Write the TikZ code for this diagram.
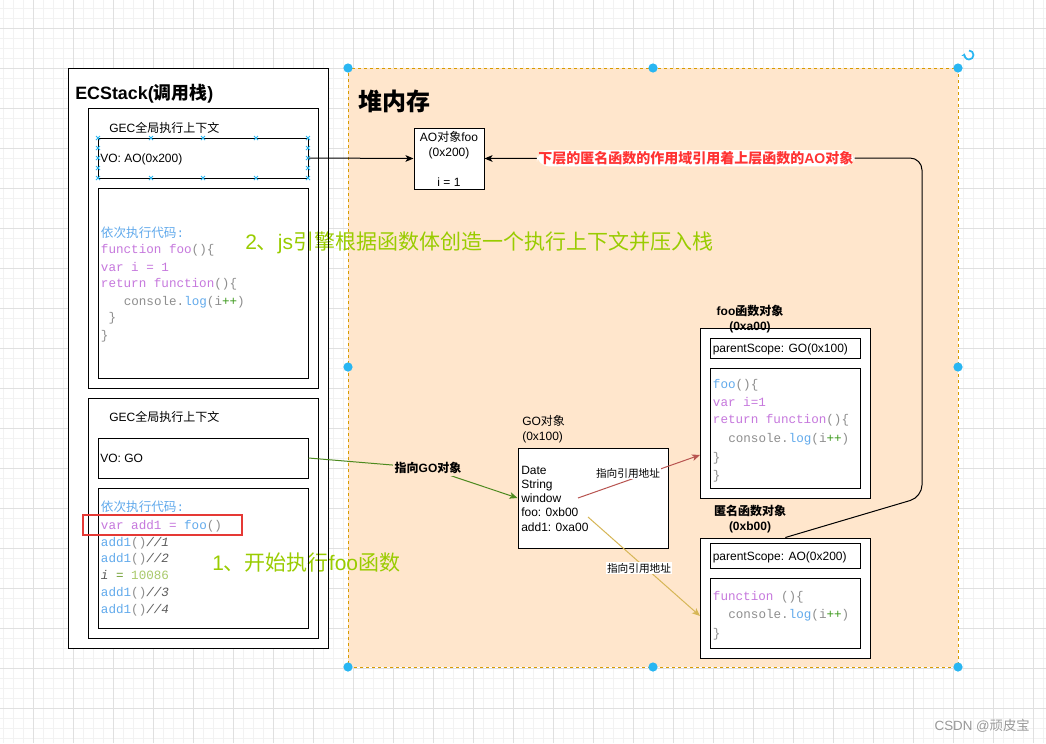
\documentclass[tikz,border=0pt]{standalone}
\usepackage{fontspec}
\setmainfont{Liberation Sans}
\setmonofont{Liberation Mono}
\newfontfamily\cjk{Noto Sans CJK SC}
\usetikzlibrary{arrows.meta,fit}
\newcommand\zh[1]{{\cjk #1}}
\newcommand\fsz[1]{\fontsize{#1pt}{#1pt}\selectfont}
\definecolor{peach}{HTML}{FFE6CC}
\definecolor{corange}{HTML}{D79B00}
\definecolor{handle}{HTML}{29B6F2}
\definecolor{cblue}{HTML}{62AAEC}
\definecolor{cpurp}{HTML}{C678DD}
\definecolor{cgrey}{HTML}{8E8E8E}
\definecolor{cgrn}{HTML}{3E9A1E}
\definecolor{cdark}{HTML}{5A5A5A}
\definecolor{clgrn}{HTML}{A9C96A}
\definecolor{ceq}{HTML}{6E9E2E}
\definecolor{cyg}{HTML}{99CC00}
\definecolor{cred}{HTML}{E53935}
\definecolor{clabel}{HTML}{FF3333}
\definecolor{arrgreen}{HTML}{4D8A1F}
\definecolor{arrred}{HTML}{B85450}
\definecolor{arryel}{HTML}{D6B656}
\definecolor{gridmaj}{HTML}{E0E0E0}
\definecolor{gridmin}{HTML}{F2F2F2}
\definecolor{wm}{HTML}{999999}
\newcommand\cP[1]{\textcolor{cpurp}{#1}}
\newcommand\cB[1]{\textcolor{cblue}{#1}}
\newcommand\cG[1]{\textcolor{cgrey}{#1}}
\newcommand\cN[1]{\textcolor{cgrn}{#1}}
\newcommand\cC[1]{\textcolor{cdark}{\itshape #1}}
\newcommand\consoleline{\cG{console.}\cB{log}\cG{(i}\cN{++}\cG{)}}
\pgfdeclarelayer{bg}
\pgfdeclarelayer{mid}
\pgfsetlayers{bg,mid,main}
\begin{document}
\begin{tikzpicture}[x=0.75pt,y=-0.75pt,
  every node/.append style={inner sep=0pt},
  box/.style={draw=black, line width=0.75pt},
  txt/.style={anchor=base west, font=\fsz{9}},
  ctxt/.style={anchor=base, font=\fsz{9}},
  code/.style={anchor=base west, font=\ttfamily\fsz{9.45}},
  arr/.style={line width=0.75pt, -{Stealth[length=6pt,width=5pt,inset=1.5pt]}},
  xmark/.style={draw=handle, line width=0.6pt},
  dot/.style={fill=handle}
]
\useasboundingbox (0,0) rectangle (1046,743);
\begin{pgfonlayer}{bg}
\fill[white] (0,0) rectangle (1046,743);
\foreach \x in {3,13,...,1043} \draw[gridmin, line width=0.5pt] (\x,0) -- (\x,743);
\foreach \y in {8,18,...,738} \draw[gridmin, line width=0.5pt] (0,\y) -- (1046,\y);
\foreach \x in {33,73,...,1033} \draw[gridmaj, line width=0.6pt] (\x,0) -- (\x,743);
\foreach \y in {28,68,...,708} \draw[gridmaj, line width=0.6pt] (0,\y) -- (1046,\y);
\node[fill=peach, draw=corange, line width=0.75pt, dash pattern=on 2.25pt off 2.25pt, fit={(348,68) (958,667)}] (heap) {};
\fill[white] (68,68) rectangle (328,648);
\end{pgfonlayer}

% captions (under box borders)
\begin{pgfonlayer}{mid}
\node[anchor=base west, font=\fsz{15.75}, text=cyg] (cap2) at (245,249) {2\zh{、}js\zh{引擎根据函数体创造一个执行上下文并压入栈}};
\node[anchor=base west, font=\fsz{15.75}, text=cyg] (cap1) at (212,570) {1\zh{、开始执行}foo\zh{函数}};
\end{pgfonlayer}

% ECStack
\node[box, fit={(68,68) (328,648)}] (ecs) {};
\node[anchor=base west, font=\bfseries\fsz{13.4}] (ecstitle) at (75,99.5) {ECStack(\zh{调用栈})};
\node[box, fit={(88,108) (318,388)}] (gec1) {};
\node[txt] (gec1t) at (109,132.5) {GEC\zh{全局执行上下文}};
\node[box, fit={(98,138) (308,178)}] (voao) {};
\node[txt] (voaot) at (100,162.3) {VO: AO(0x200)};
\node[box, fit={(98,188) (308,378)}] (code1) {};
\node[code] (u1) at (100.7,237.5) {\cB{\zh{依次执行代码}:}};
\node[code] (u2) at (100.7,253.5) {\cP{function foo}\cG{()\{}};
\node[code] (u3) at (100.7,271) {\cP{var i = 1}};
\node[code] (u4) at (100.7,287.5) {\cP{return function}\cG{()\{}};
\node[code] (u5) at (123.5,305) {\consoleline};
\node[code] (u6) at (108.3,321.5) {\cG{\}}};
\node[code] (u7) at (100.7,339) {\cG{\}}};

\node[box, fit={(88,398) (318,638)}] (gec2) {};
\node[txt] (gec2t) at (109,421.5) {GEC\zh{全局执行上下文}};
\node[box, fit={(98,438) (308,478)}] (vogo) {};
\node[txt] (vogot) at (100,462.3) {VO: GO};
\node[box, fit={(98,488) (308,628)}] (code2) {};
\node[code] (l1) at (100.7,511.5) {\cB{\zh{依次执行代码}:}};
\node[code] (l2) at (100.7,529) {\cP{var add1 =} \cB{foo}\cG{()}};
\node[code] (l3) at (100.7,546.5) {\cB{add1}\cG{()}\cC{//1}};
\node[code] (l4) at (100.7,562.5) {\cB{add1}\cG{()}\cC{//2}};
\node[code] (l5) at (100.7,579.5) {\cC{i} \textcolor{ceq}{=} \textcolor{clgrn}{10086}};
\node[code] (l6) at (100.7,596.5) {\cB{add1}\cG{()}\cC{//3}};
\node[code] (l7) at (100.7,613.5) {\cB{add1}\cG{()}\cC{//4}};
\node[draw=cred, line width=1.5pt, fit={(83,515) (242,535)}] (redbox) {};

% selection markers on VO box
\foreach \x/\y in {98/138,151/138,203/138,256/138,308/138,98/178,151/178,203/178,256/178,308/178,98/148,98/158,98/168,308/148,308/158,308/168}
  \draw[xmark] (\x-2,\y-2) -- (\x+2,\y+2) (\x-2,\y+2) -- (\x+2,\y-2);

% heap
\node[anchor=base west, font=\bfseries\fsz{18}] (heapt) at (358,110) {\zh{堆内存}};
\node[box, fill=white, fit={(414,128) (484,189)}] (ao) {};
\node[ctxt] (ao1) at (449,141.3) {AO\zh{对象}foo};
\node[ctxt] (ao2) at (449,156.3) {(0x200)};
\node[ctxt] (ao3) at (449,186) {i = 1};

\node[txt] (gol1) at (522,425.5) {GO\zh{对象}};
\node[txt] (gol2) at (522,440.3) {(0x100)};
\node[box, fill=white, fit={(518,448) (668,548)}] (go) {};
\node[txt] (g1) at (521,474.3) {Date};
\node[txt] (g2) at (521,488.5) {String};
\node[txt] (g3) at (521,502.3) {window};
\node[txt] (g4) at (521,516.6) {foo: 0xb00};
\node[txt] (g5) at (521,531) {add1: 0xa00};

\node[box, fill=white, fit={(700.7,328) (870,498)}] (foo) {};
\node[box, fit={(710.7,338.3) (860.7,358)}] (foops) {};
\node[txt] (foopst) at (712.5,352.3) {parentScope: GO(0x100)};
\node[box, fit={(710.7,368) (860.7,488)}] (foocode) {};
\node[code] (f1) at (712.7,388.5) {\cB{foo}\cG{()\{}};
\node[code] (f2) at (712.7,406.5) {\cP{var i=1}};
\node[code] (f3) at (712.7,423.5) {\cP{return function}\cG{()\{}};
\node[code] (f4) at (728,442.5) {\consoleline};
\node[code] (f5) at (712.7,461.5) {\cG{\}}};
\node[code] (f6) at (712.7,479.5) {\cG{\}}};
\node[ctxt, font=\bfseries\fsz{9}] (foolab1) at (750,315.5) {foo\zh{函数对象}};
\node[ctxt, font=\bfseries\fsz{9}] (foolab2) at (750,330.3) {(0xa00)};

\node[box, fill=white, fit={(700.7,538) (870,658)}] (anon) {};
\node[box, fit={(710.7,543) (860.7,568)}] (anonps) {};
\node[txt] (anonpst) at (712.5,560.3) {parentScope: AO(0x200)};
\node[box, fit={(710.7,578) (860.7,648)}] (anoncode) {};
\node[code] (a1) at (712.7,600.5) {\cP{function} \cG{()\{}};
\node[code] (a2) at (728,618.5) {\consoleline};
\node[code] (a3) at (712.7,637.5) {\cG{\}}};
\node[ctxt, font=\bfseries\fsz{9}] (anonlab1) at (750,515.5) {\zh{匿名函数对象}};
\node[ctxt, font=\bfseries\fsz{9}] (anonlab2) at (750,530.3) {(0xb00)};

% connectors
\draw[arr] (voao.east) -- (ao.west);
\draw[arr, rounded corners=9] (anon.north) -- (922,497) -- (922,158)
  -- node[pos=0.517, fill=white, inner sep=1pt, text=clabel, font=\bfseries\fsz{10.5}] (reflbl) {\zh{下层的匿名函数的作用域引用着上层函数的}AO\zh{对象}} (ao.east);
\coordinate (gobend) at (428,468);
\draw[arr, draw=arrgreen] (vogo.east) -- (gobend)
  node[fill=peach, inner sep=1.5pt, font=\bfseries\fsz{9}, text=black] (golbl) {\zh{指向}GO\zh{对象}} -- (go.west);
\coordinate (rs) at (578,498);
\coordinate (re) at (700,455);
\draw[arr, draw=arrred] (rs) -- (re);
\node[fill=white, inner sep=1pt, font=\fsz{8}] (rlbl) at (628,473) {\zh{指向引用地址}};
\coordinate (ys) at (588,517);
\coordinate (ye) at (700,616);
\draw[arr, draw=arryel] (ys) -- (ye);
\node[fill=white, inner sep=1pt, font=\fsz{8}] (ylbl) at (639,568) {\zh{指向引用地址}};

% selection handles
\foreach \x/\y in {348/68,653/68,958/68,348/367,958/367,348/667,653/667,958/667}
  \fill[dot] (\x,\y) circle[radius=4.6];
\draw[handle, line width=1.3pt, -{Stealth[length=2.6pt,width=3.6pt]}] (969,50.5) arc[start angle=-90, end angle=200, radius=4.5];

\node[anchor=base east, font=\fsz{10}, text=wm] (wmk) at (1030,730.5) {CSDN @\zh{顽皮宝}};
\end{tikzpicture}
\end{document}
